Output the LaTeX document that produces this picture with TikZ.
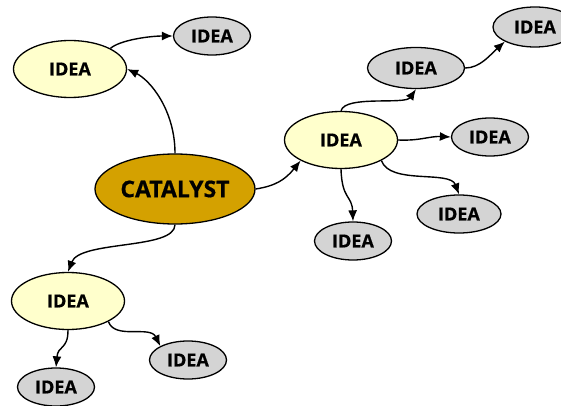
\documentclass[tikz,border=0pt]{standalone}
\usepackage{fontspec}
\setmainfont{Open Sans}[BoldFeatures={FakeBold=0.6}]
\usetikzlibrary{shapes.geometric,arrows.meta}
\definecolor{gold}{RGB}{212,161,0}
\definecolor{cream}{RGB}{255,255,204}
\definecolor{pale}{RGB}{212,212,212}
\tikzset{
  bubble/.style={ellipse, draw=black, line width=1.3pt, inner sep=0pt,
    font=\bfseries\fontsize{18}{18}\selectfont},
  hub/.style={bubble, fill=gold, minimum width=160pt, minimum height=70pt,
    font=\bfseries\fontsize{23}{23}\selectfont},
  mainidea/.style={bubble, fill=cream, minimum width=113pt, minimum height=57pt},
  subidea/.style={bubble, fill=pale, minimum width=77pt, minimum height=38pt},
  link/.style={line width=1.4pt, -{Latex[length=11pt,width=9pt]}}
}
\begin{document}
\begin{tikzpicture}[x=1pt,y=-1pt]
\useasboundingbox (0,0) rectangle (561,406);
\clip (0,0) rectangle (561,406);

% central node
\node[hub] (cat) at (175,189) {CATALYST};

% first-level ideas
\node[mainidea] (tl) at (70,69) {IDEA};
\node[mainidea] (r) at (341,140) {IDEA};
\node[mainidea] (bl) at (68,301) {IDEA};

% second-level ideas
\node[subidea] (tlA) at (212,36) {IDEA};
\node[subidea, minimum width=97pt, minimum height=41pt] (rU) at (416,68) {IDEA};
\node[subidea, minimum width=84pt, minimum height=40pt] (rUU) at (535,27) {IDEA};
\node[subidea] (rR) at (490,137) {IDEA};
\node[subidea, minimum width=84pt] (rD) at (459,214) {IDEA};
\node[subidea] (rB) at (353,241) {IDEA};
\node[subidea] (blB) at (56,387) {IDEA};
\node[subidea] (blR) at (188,360) {IDEA};

% connectors from the hub
\draw[link] (cat.north) .. controls (175,110) and (150,80) .. (tl.east);
\draw[link] (cat.east) .. controls (275,186) and (285,180) .. (r.south west);
\draw[link] (cat.south) .. controls (175,250) and (80,240) .. (bl.north);

% connectors from the upper-left idea
\draw[link] (tl.north east) .. controls (120,40) and (150,36) .. (tlA.west);

% connectors from the right idea
\draw[link] (r.north) .. controls (345,95) and (405,105) .. (rU.south);
\draw[link] (rU.east) .. controls (480,68) and (490,55) .. (rUU.south west);
\draw[link] (r.east) .. controls (420,141) and (430,136) .. (rR.west);
\draw[link] (r.south east) .. controls (390,185) and (450,170) .. (rD.north);
\draw[link] (r.south) .. controls (342,200) and (352,195) .. (rB.north);

% connectors from the lower-left idea
\draw[link] (bl.south) .. controls (68,350) and (58,345) .. (blB.north);
\draw[link] (bl.south east) .. controls (115,340) and (150,325) .. (blR.north west);
\end{tikzpicture}
\end{document}
